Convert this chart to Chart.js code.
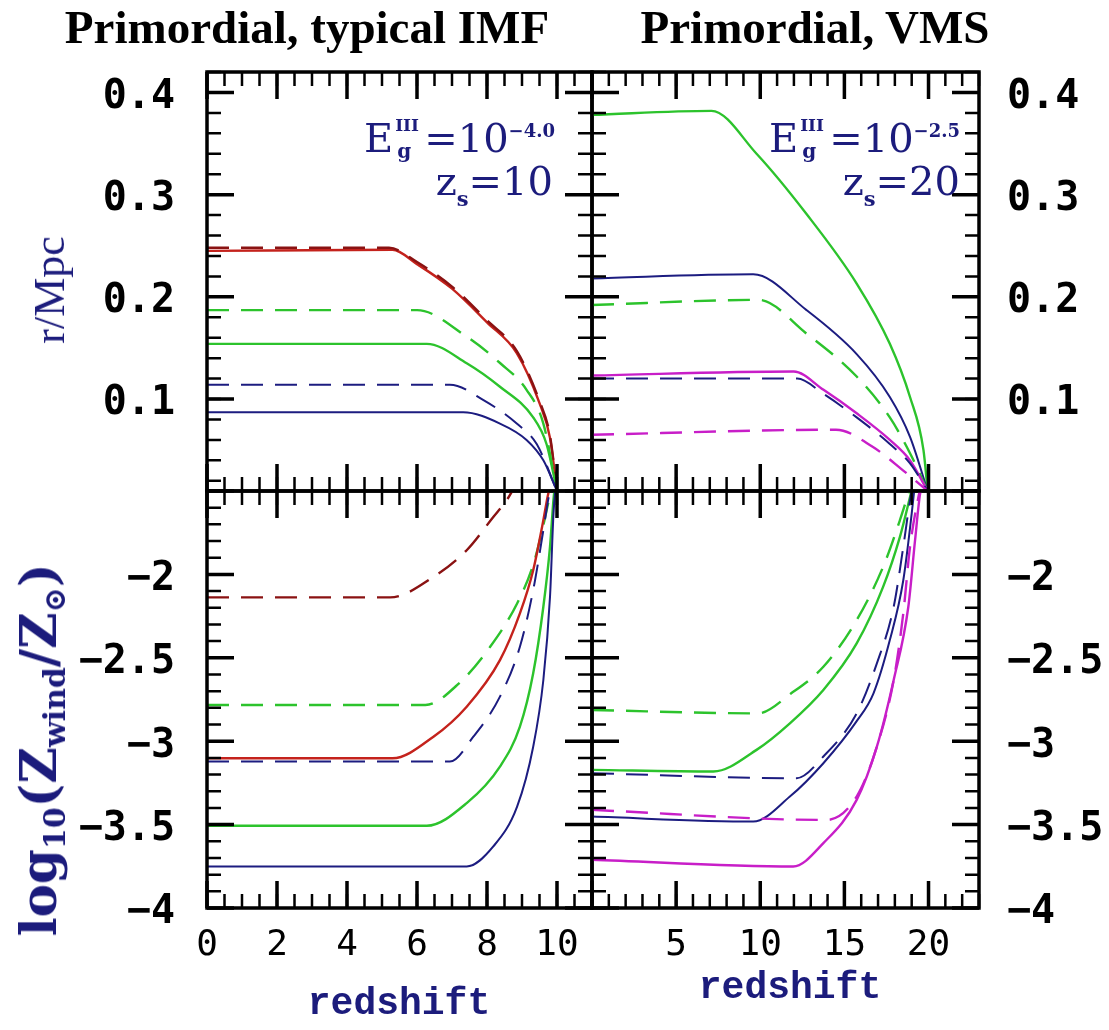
<!DOCTYPE html>
<html>
<head>
<meta charset="utf-8">
<script src="https://cdn.jsdelivr.net/npm/chart.js@4.4.1/dist/chart.umd.min.js"></script>
<style>
  html, body { margin: 0; padding: 0; background: #fff; }
  #wrap { position: relative; width: 1109px; height: 1030px; overflow: hidden; }
  canvas { position: absolute; left: 0; top: 0; }
  .txt { position: absolute; white-space: nowrap; }
  .title { font-family: 'Liberation Serif', serif; font-weight: bold; font-size: 47px; line-height: 47px; color: #000; transform: translateX(-50%); }
  .note { font-family: 'DejaVu Serif', serif; font-size: 40px; line-height: 40px; color: #1c1c7c; }
  .st { display: inline-block; position: relative; width: 31px; height: 0; line-height: 0; }
  .hi { position: absolute; left: 2px; top: -35px; font-size: 17px; line-height: 17px; font-weight: bold; }
  .lo { position: absolute; left: 4px; top: -11px; font-size: 20px; line-height: 20px; font-weight: bold; }
  .sp { position: relative; top: -15px; font-size: 18px; line-height: 0; font-weight: bold; }
  .sb { position: relative; top: 11px; font-size: 21px; line-height: 0; font-weight: bold; }
  .ylab { color: #1c1c7c; transform: translate(-50%, -50%) rotate(-90deg); }
  .xlab { font-family: 'Liberation Mono', monospace; font-weight: bold; font-size: 38px; line-height: 38px; color: #1c1c7c; transform: translateX(-50%); }
  .sub { position: relative; top: 0.3em; font-size: 0.6em; line-height: 0; }
</style>
</head>
<body>
<div id="wrap">
  <canvas id="tl" width="1109" height="1030"></canvas>
  <canvas id="tr" width="1109" height="1030"></canvas>
  <canvas id="bl" width="1109" height="1030"></canvas>
  <canvas id="br" width="1109" height="1030"></canvas>

  <div class="txt title" style="left:307px; top:4px;">Primordial, typical IMF</div>
  <div class="txt title" style="left:815px; top:4px;">Primordial, VMS</div>

  <div class="txt note" style="right:554px; top:118px;">E<span class="st"><span class="hi">III</span><span class="lo">g</span></span>=10<span class="sp">−4.0</span></div>
  <div class="txt note" style="right:556px; top:161px;">z<span class="sb">s</span>=10</div>
  <div class="txt note" style="right:149px; top:118px;">E<span class="st"><span class="hi">III</span><span class="lo">g</span></span>=10<span class="sp">−2.5</span></div>
  <div class="txt note" style="right:149px; top:161px;">z<span class="sb">s</span>=20</div>

  <div class="txt ylab" style="left:50px; top:290px; font-family:'Liberation Serif', serif; font-size:44px; line-height:44px;">r/Mpc</div>
  <div class="txt ylab" style="left:39px; top:750px; font-family:'DejaVu Serif', serif; font-weight:bold; font-size:50px; line-height:50px;">log<span class="sub">10</span>(Z<span class="sub">wind</span>/Z<span class="sub">⊙</span>)</div>

  <div class="txt xlab" style="left:399px; top:985px;">redshift</div>
  <div class="txt xlab" style="left:790px; top:969px;">redshift</div>
</div>

<script>
const W = 1109, H = 1030;

// axis ranges and labelled ticks
const zRangeLeft = [0, 11];
const zRangeRight = [0, 23];
const rRange = [0.01, 0.42];
const zwRange = [-4, -1.5];
const zTicksLeft = [0, 2, 4, 6, 8, 10];
const zTicksRight = [5, 10, 15, 20];
const rTicks = [0.1, 0.2, 0.3, 0.4];
const zwTicks = [-4, -3.5, -3, -2.5, -2];

// top-left: r/Mpc, typical IMF
const tlRedDashZ = [0, 5.2, 6, 7, 8, 8.85, 9.5, 9.8, 10];
const tlRedDashR = [0.248, 0.248, 0.234, 0.210, 0.177, 0.147, 0.098, 0.064, 0.01];
const tlRedSolidZ = [0, 5.3, 6, 7, 8, 8.85, 9.5, 9.8, 10];
const tlRedSolidR = [0.245, 0.246, 0.232, 0.208, 0.175, 0.145, 0.096, 0.062, 0.01];
const tlGreenDashZ = [0, 6.0, 7.42, 8.38, 9.13, 9.61, 10];
const tlGreenDashR = [0.187, 0.187, 0.161, 0.135, 0.109, 0.076, 0.01];
const tlGreenSolidZ = [0, 6.28, 7.42, 8.37, 9.32, 9.7, 10];
const tlGreenSolidR = [0.154, 0.154, 0.135, 0.112, 0.082, 0.056, 0.01];
const tlNavyDashZ = [0, 6.94, 7.9, 8.85, 9.42, 10];
const tlNavyDashR = [0.114, 0.114, 0.099, 0.076, 0.056, 0.01];
const tlNavySolidZ = [0, 7.32, 8.37, 9.13, 9.61, 10];
const tlNavySolidR = [0.087, 0.087, 0.076, 0.060, 0.040, 0.01];

// top-right: r/Mpc, VMS
const trGreenSolidZ = [0, 7.1, 9.78, 12.75, 15.73, 17.7, 18.9, 19.7, 19.95];
const trGreenSolidR = [0.378, 0.382, 0.340, 0.281, 0.213, 0.154, 0.102, 0.05, 0.01];
const trNavySolidZ = [0, 9.58, 12.75, 15.73, 17.7, 18.9, 19.95];
const trNavySolidR = [0.218, 0.222, 0.187, 0.144, 0.102, 0.063, 0.01];
const trGreenDashZ = [0, 9.9, 12.75, 15.73, 17.7, 18.9, 19.95];
const trGreenDashR = [0.192, 0.197, 0.164, 0.122, 0.082, 0.047, 0.01];
const trMagSolidZ = [0, 11.98, 13.76, 15.73, 17.7, 18.9, 19.95];
const trMagSolidR = [0.123, 0.127, 0.109, 0.086, 0.060, 0.040, 0.01];
const trNavyDashZ = [0, 12.2, 13.76, 15.73, 17.7, 18.9, 19.95];
const trNavyDashR = [0.120, 0.120, 0.105, 0.082, 0.056, 0.037, 0.01];
const trMagDashZ = [0, 14.5, 16.7, 18.5, 19.95];
const trMagDashR = [0.065, 0.070, 0.053, 0.030, 0.01];

// bottom-left: log10(Zwind/Zsun), typical IMF
const blRedDashZ = [0, 5.23, 6.47, 7.42, 8.18, 8.56, 8.75];
const blRedDashV = [-2.138, -2.138, -2.015, -1.855, -1.656, -1.556, -1.49];
const blGreenDashZ = [0, 6.24, 7.2, 8.09, 8.86, 9.33, 9.62, 9.81, 9.9];
const blGreenDashV = [-2.783, -2.783, -2.653, -2.434, -2.174, -1.935, -1.695, -1.516, -1.45];
const blRedSolidZ = [0, 5.3, 6.47, 7.42, 8.37, 8.94, 9.32, 9.61, 9.75, 9.85];
const blRedSolidV = [-3.102, -3.102, -2.973, -2.793, -2.514, -2.234, -1.975, -1.675, -1.516, -1.45];
const blNavyDashZ = [0, 6.94, 7.61, 8.37, 8.94, 9.32, 9.61, 9.75, 9.85];
const blNavyDashV = [-3.122, -3.122, -2.973, -2.733, -2.434, -2.094, -1.735, -1.55, -1.45];
const blGreenSolidZ = [0, 6.28, 7.42, 8.37, 8.94, 9.32, 9.61, 9.8, 9.9, 9.95];
const blGreenSolidV = [-3.507, -3.507, -3.371, -3.152, -2.913, -2.593, -2.194, -1.835, -1.55, -1.45];
const blNavySolidZ = [0, 7.42, 8.18, 8.86, 9.32, 9.61, 9.8, 9.9, 9.97];
const blNavySolidV = [-3.751, -3.751, -3.631, -3.392, -3.033, -2.633, -2.135, -1.635, -1.45];

// bottom-right: log10(Zwind/Zsun), VMS
const brGreenDashZ = [0, 9.86, 11.84, 13.75, 15.73, 17.3, 18.3, 18.8, 19.0];
const brGreenDashV = [-2.813, -2.833, -2.713, -2.554, -2.274, -1.955, -1.675, -1.516, -1.45];
const brGreenSolidZ = [0, 7.21, 9.78, 11.76, 13.75, 15.73, 17.3, 18.3, 18.9, 19.1];
const brGreenSolidV = [-3.172, -3.182, -3.052, -2.893, -2.693, -2.414, -2.075, -1.775, -1.536, -1.45];
const brNavyDashZ = [0, 12.16, 13.75, 15.73, 16.93, 17.93, 18.5, 18.9, 19.1];
const brNavyDashV = [-3.192, -3.222, -3.092, -2.833, -2.533, -2.194, -1.835, -1.556, -1.45];
const brNavySolidZ = [0, 9.58, 11.76, 13.75, 15.73, 16.73, 17.7, 18.5, 19.0, 19.2];
const brNavySolidV = [-3.452, -3.482, -3.332, -3.132, -2.88, -2.713, -2.394, -2.035, -1.635, -1.45];
const brMagDashZ = [0, 13.94, 15.73, 16.93, 17.93, 18.5, 18.9, 19.4, 19.6];
const brMagDashV = [-3.412, -3.472, -3.332, -3.033, -2.633, -2.234, -1.835, -1.536, -1.45];
const brMagSolidZ = [0, 11.96, 13.75, 15.73, 16.93, 17.93, 18.8, 19.2, 19.5, 19.7];
const brMagSolidV = [-3.711, -3.751, -3.611, -3.352, -3.033, -2.633, -2.194, -1.795, -1.516, -1.45];

const GREEN = '#2cc32c', RED = '#c4221c', DARKRED = '#8a1212', NAVY = '#1c1c80', MAG = '#c81ec8';

// room kept for tick labels outside each box
const Y_LABEL_W = 150, X_LABEL_H = 80;

// draws the box and the inward ticks on all four sides
const frameTicks = {
  id: 'frameTicks',
  afterDatasetsDraw(chart, args, opts) {
    const { ctx, chartArea: a } = chart;
    const xs = chart.scales.x, ys = chart.scales.y;
    const steps = (min, max, step) => {
      const out = [];
      for (let i = Math.ceil(min / step - 1e-9); i * step <= max + 1e-9; i++) out.push(i * step);
      return out;
    };
    ctx.save();
    ctx.strokeStyle = '#000';
    const tickX = (vals, len, lw) => {
      ctx.lineWidth = lw;
      ctx.beginPath();
      vals.forEach(v => {
        const p = xs.getPixelForValue(v);
        ctx.moveTo(p, a.bottom); ctx.lineTo(p, a.bottom - len);
        ctx.moveTo(p, a.top); ctx.lineTo(p, a.top + len);
      });
      ctx.stroke();
    };
    const tickY = (vals, len, lw) => {
      ctx.lineWidth = lw;
      ctx.beginPath();
      vals.forEach(v => {
        const p = ys.getPixelForValue(v);
        ctx.moveTo(a.left, p); ctx.lineTo(a.left + len, p);
        ctx.moveTo(a.right, p); ctx.lineTo(a.right - len, p);
      });
      ctx.stroke();
    };
    tickX(steps(xs.min, xs.max, opts.xMinor), 14, 2.5);
    tickX(steps(xs.min, xs.max, opts.xMajor), 27, 3.5);
    tickY(steps(ys.min, ys.max, opts.yMinor), 14, 2.5);
    tickY(steps(ys.min, ys.max, opts.yMajor), 27, 3.5);
    ctx.lineWidth = 3.5;
    ctx.strokeRect(a.left, a.top, a.right - a.left, a.bottom - a.top);
    ctx.restore();
  }
};

const fmt = v => {
  const s = Number.isInteger(v) ? String(v) : v.toFixed(1);
  return s.replace('-', '\u2212');
};

function makePanel(id, box, xCfg, yCfg, series) {
  const ctx = document.getElementById(id).getContext('2d');
  const yw = Y_LABEL_W, xh = xCfg.labels ? X_LABEL_H : 0;
  const pad = {
    left: box[0] - (yCfg.side === 'left' ? yw : 0),
    right: W - box[2] - (yCfg.side === 'right' ? yw - 20 : 0),
    top: box[1],
    bottom: H - box[3] - xh
  };
  return new Chart(ctx, {
    type: 'line',
    data: {
      datasets: series.map(([zs, vs, color, dashed]) => ({
        data: zs.map((z, i) => ({ x: z, y: vs[i] })),
        borderColor: color,
        borderWidth: color === NAVY ? 2 : 2.4,
        borderDash: dashed ? [22, 12] : [],
        pointRadius: 0,
        cubicInterpolationMode: 'monotone',
        fill: false
      }))
    },
    options: {
      responsive: false,
      animation: false,
      events: [],
      layout: { padding: pad },
      plugins: {
        legend: { display: false },
        tooltip: { enabled: false },
        frameTicks: { xMajor: xCfg.major, xMinor: xCfg.minor, yMajor: yCfg.major, yMinor: yCfg.minor }
      },
      scales: {
        x: {
          type: 'linear', position: 'bottom',
          min: xCfg.range[0], max: xCfg.range[1],
          grid: { display: false, drawTicks: false },
          border: { display: false },
          ticks: {
            display: xCfg.labels, autoSkip: false, maxRotation: 0, padding: 16, color: '#000',
            font: { family: 'DejaVu Sans Mono', size: 36 },
            callback: v => fmt(v)
          },
          afterBuildTicks: s => { s.ticks = xCfg.ticks.map(v => ({ value: v })); },
          afterFit: s => { s.height = xh; }
        },
        y: {
          type: 'linear', position: yCfg.side,
          min: yCfg.range[0], max: yCfg.range[1],
          grid: { display: false, drawTicks: false },
          border: { display: false },
          ticks: {
            autoSkip: false, padding: yCfg.side === 'left' ? 32 : 28, color: '#000', labelOffset: 5,
            font: { family: 'DejaVu Sans Mono', size: 40, weight: 'bold' },
            callback: v => fmt(v)
          },
          afterBuildTicks: s => { s.ticks = yCfg.ticks.map(v => ({ value: v })); },
          afterFit: s => { s.width = yCfg.side === 'left' ? yw : yw - 20; }
        }
      }
    },
    plugins: [frameTicks]
  });
}

const xLeftTop = { range: zRangeLeft, ticks: zTicksLeft, major: 2, minor: 0.5, labels: false };
const xLeftBot = { range: zRangeLeft, ticks: zTicksLeft, major: 2, minor: 0.5, labels: true };
const xRightTop = { range: zRangeRight, ticks: zTicksRight, major: 5, minor: 1, labels: false };
const xRightBot = { range: zRangeRight, ticks: zTicksRight, major: 5, minor: 1, labels: true };
const yTopL = { range: rRange, ticks: rTicks, major: 0.1, minor: 0.02, side: 'left' };
const yTopR = { range: rRange, ticks: rTicks, major: 0.1, minor: 0.02, side: 'right' };
const yBotL = { range: zwRange, ticks: zwTicks, major: 0.5, minor: 0.1, side: 'left' };
const yBotR = { range: zwRange, ticks: zwTicks, major: 0.5, minor: 0.1, side: 'right' };

makePanel('tl', [207, 72, 592, 491], xLeftTop, yTopL, [
  [tlNavySolidZ, tlNavySolidR, NAVY, false],
  [tlNavyDashZ, tlNavyDashR, NAVY, true],
  [tlGreenSolidZ, tlGreenSolidR, GREEN, false],
  [tlGreenDashZ, tlGreenDashR, GREEN, true],
  [tlRedDashZ, tlRedDashR, DARKRED, true],
  [tlRedSolidZ, tlRedSolidR, RED, false]
]);
makePanel('tr', [592, 72, 979, 491], xRightTop, yTopR, [
  [trMagDashZ, trMagDashR, MAG, true],
  [trNavyDashZ, trNavyDashR, NAVY, true],
  [trMagSolidZ, trMagSolidR, MAG, false],
  [trGreenDashZ, trGreenDashR, GREEN, true],
  [trNavySolidZ, trNavySolidR, NAVY, false],
  [trGreenSolidZ, trGreenSolidR, GREEN, false]
]);
makePanel('bl', [207, 491, 592, 908], xLeftBot, yBotL, [
  [blNavySolidZ, blNavySolidV, NAVY, false],
  [blGreenSolidZ, blGreenSolidV, GREEN, false],
  [blNavyDashZ, blNavyDashV, NAVY, true],
  [blRedSolidZ, blRedSolidV, RED, false],
  [blGreenDashZ, blGreenDashV, GREEN, true],
  [blRedDashZ, blRedDashV, DARKRED, true]
]);
makePanel('br', [592, 491, 979, 908], xRightBot, yBotR, [
  [brMagSolidZ, brMagSolidV, MAG, false],
  [brMagDashZ, brMagDashV, MAG, true],
  [brNavySolidZ, brNavySolidV, NAVY, false],
  [brNavyDashZ, brNavyDashV, NAVY, true],
  [brGreenSolidZ, brGreenSolidV, GREEN, false],
  [brGreenDashZ, brGreenDashV, GREEN, true]
]);
</script>
</body>
</html>
